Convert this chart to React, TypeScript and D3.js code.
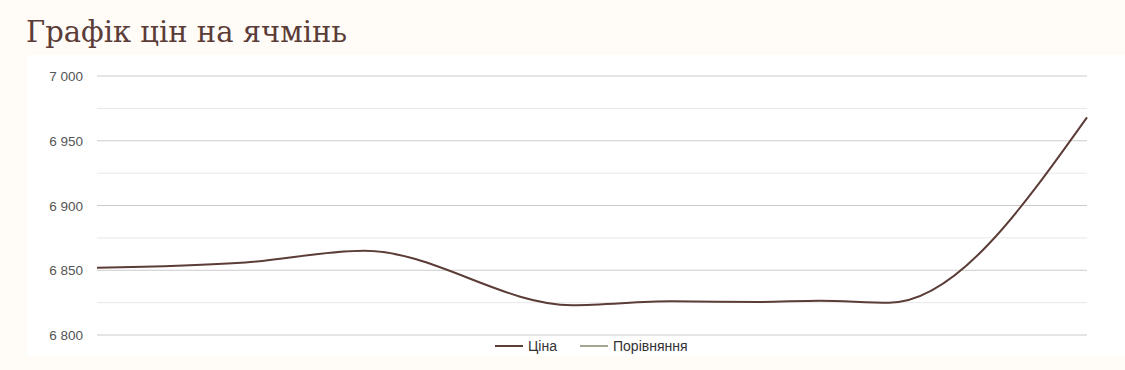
import React from "react";
import * as d3 from "d3";

const title = "Графік цін на ячмінь";
const days = [0, 15, 27, 48, 58, 67, 73, 80, 100];
const prices = [6852, 6856, 6865, 6823, 6826, 6825.5, 6826.5, 6825, 6968];
const yTicks = [6800, 6850, 6900, 6950, 7000];
const yMinorTicks = [6825, 6875, 6925, 6975];
const legendItems = ["Ціна", "Порівняння"];
const legendColors = ["#5b3c37", "#a3a78f"];

const W = 1125;
const H = 370;

export default function App() {
  const x = d3.scaleLinear().domain([0, 100]).range([97, 1087]);
  const y = d3.scaleLinear().domain([6800, 7000]).range([335, 76]);
  const pts = days.map((d, i) => [d, prices[i]] as [number, number]);
  const line = d3
    .line<[number, number]>()
    .x((d) => x(d[0]))
    .y((d) => y(d[1]))
    .curve(d3.curveMonotoneX);
  const fmt = (v: number) => d3.format(",")(v).replace(/,/g, " ");
  const legendX = [495, 580];
  return (
    <svg
      width={W}
      height={H}
      style={{ position: "absolute", left: 0, top: 0, display: "block" }}
    >
      <rect x={0} y={0} width={W} height={H} fill="#fffbf7" />
      <rect x={27} y={55} width={W - 27} height={301} fill="#ffffff" />
      <text
        x={26}
        y={42}
        fill="#5b3c37"
        fontFamily="'DejaVu Serif', serif"
        fontSize={29}
      >
        {title}
      </text>
      {yMinorTicks.map((t) => (
        <line key={"m" + t} x1={97} x2={1087} y1={y(t)} y2={y(t)} stroke="#e8e8e8" strokeWidth={1} />
      ))}
      {yTicks.map((t) => (
        <g key={t}>
          <line x1={97} x2={1087} y1={y(t)} y2={y(t)} stroke="#cccccc" strokeWidth={1} />
          <text
            x={83}
            y={y(t) + 5}
            textAnchor="end"
            fill="#555555"
            fontFamily="'Liberation Sans', Arial, sans-serif"
            fontSize={13.5}
          >
            {fmt(t)}
          </text>
        </g>
      ))}
      <path d={line(pts) || ""} fill="none" stroke="#5b3c37" strokeWidth={2} />
      {legendItems.map((l, i) => {
        const lx = legendX[i];
        return (
          <g key={l}>
            <line x1={lx} x2={lx + 28} y1={346} y2={346} stroke={legendColors[i]} strokeWidth={2} />
            <text
              x={lx + 33}
              y={351}
              fill="#333333"
              fontFamily="'Liberation Sans', Arial, sans-serif"
              fontSize={14}
            >
              {l}
            </text>
          </g>
        );
      })}
    </svg>
  );
}
